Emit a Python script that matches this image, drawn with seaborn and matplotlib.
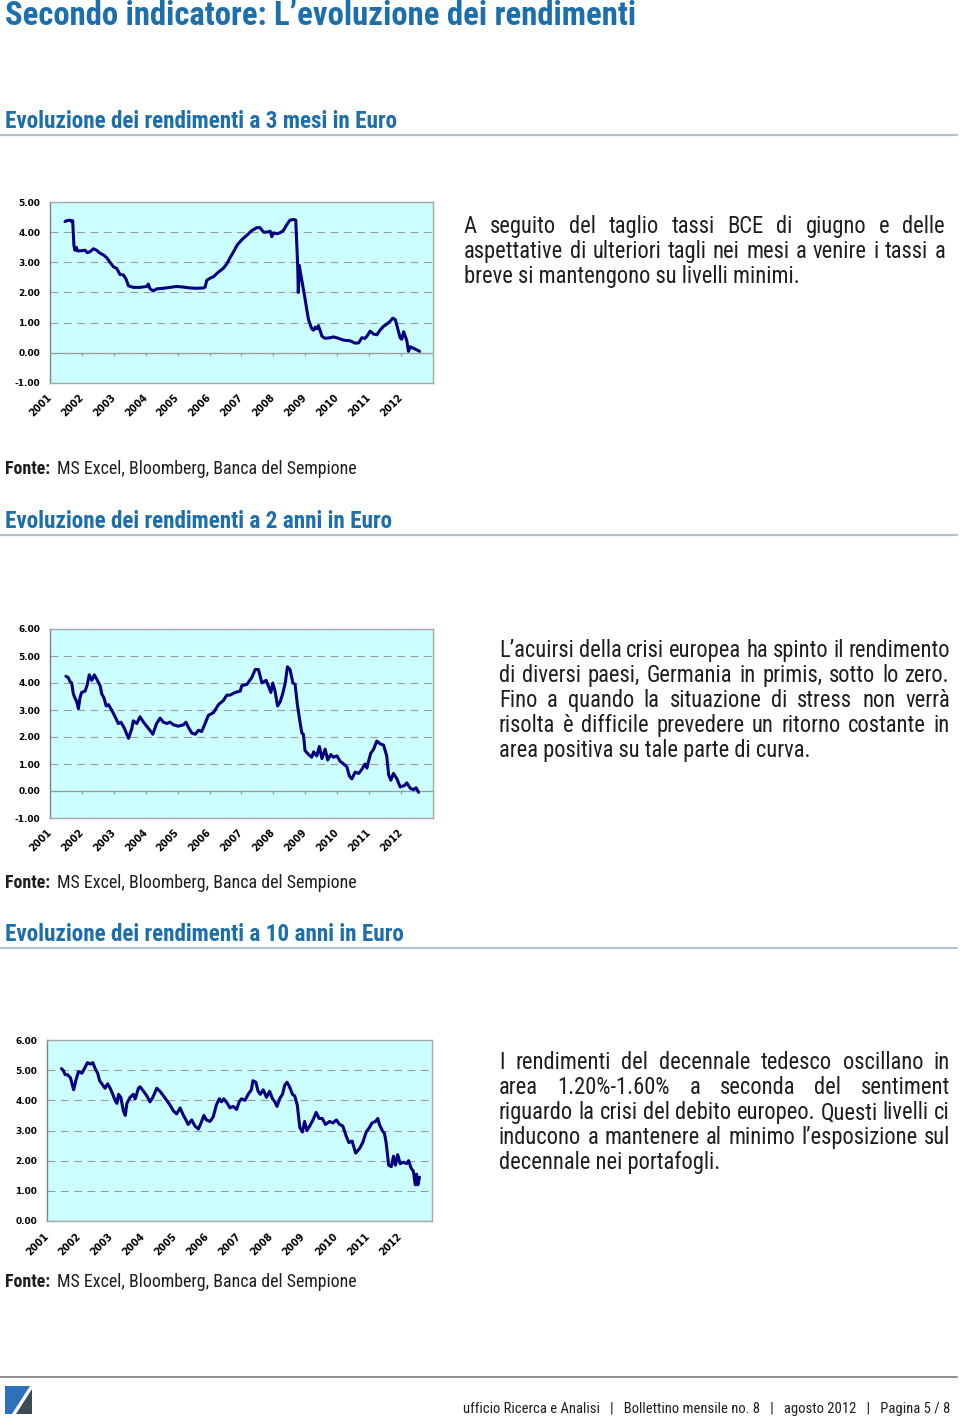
import matplotlib
matplotlib.use("Agg")
import matplotlib.pyplot as plt
import matplotlib.transforms as mtransforms
from matplotlib import font_manager
from matplotlib.patches import Polygon
import seaborn as sns

# ---- data (decimal year, yield %) ----
years_3m = [2001.47, 2001.52, 2001.63, 2001.68, 2001.71, 2001.75, 2001.78, 2001.82, 2001.86, 2001.94,
            2002.10, 2002.17, 2002.25, 2002.36, 2002.46, 2002.57, 2002.67, 2002.78, 2002.88, 2002.99,
            2003.09, 2003.19, 2003.30, 2003.38, 2003.46, 2003.61, 2003.82, 2004.03, 2004.08, 2004.13,
            2004.24, 2004.34, 2004.55, 2004.76, 2004.97, 2005.18, 2005.39, 2005.60, 2005.81, 2005.86,
            2005.91, 2006.02, 2006.12, 2006.28, 2006.43, 2006.54, 2006.64, 2006.75, 2006.87, 2007.01,
            2007.17, 2007.32, 2007.48, 2007.58, 2007.69, 2007.79, 2007.90, 2007.95, 2008.00, 2008.11,
            2008.21, 2008.31, 2008.42, 2008.52, 2008.63, 2008.70, 2008.76, 2008.78, 2008.81, 2008.84,
            2008.89, 2008.94, 2008.99, 2009.05, 2009.10, 2009.15, 2009.20, 2009.26, 2009.31, 2009.36,
            2009.41, 2009.46, 2009.52, 2009.62, 2009.78, 2009.88, 2010.04, 2010.20, 2010.40, 2010.56,
            2010.67, 2010.77, 2010.87, 2010.93, 2011.03, 2011.14, 2011.24, 2011.34, 2011.45, 2011.55,
            2011.66, 2011.74, 2011.82, 2011.87, 2011.92, 2011.97, 2012.02, 2012.08, 2012.13, 2012.18,
            2012.23, 2012.29, 2012.39, 2012.49, 2012.58]
rates_3m = [4.35, 4.38, 4.40, 4.35, 4.38, 3.55, 3.40, 3.50, 3.38, 3.38,
            3.40, 3.32, 3.35, 3.45, 3.40, 3.30, 3.25, 3.15, 3.00, 2.85,
            2.80, 2.60, 2.58, 2.45, 2.22, 2.17, 2.17, 2.20, 2.28, 2.13,
            2.05, 2.12, 2.14, 2.17, 2.20, 2.18, 2.15, 2.14, 2.15, 2.18,
            2.40, 2.48, 2.52, 2.68, 2.80, 2.95, 3.15, 3.35, 3.58, 3.75,
            3.90, 4.05, 4.15, 4.15, 4.00, 4.00, 4.03, 3.85, 3.98, 3.95,
            3.98, 4.05, 4.25, 4.40, 4.42, 4.40, 2.90, 2.00, 2.90, 2.70,
            2.40, 2.10, 1.80, 1.40, 1.10, 0.95, 0.80, 0.75, 0.85, 0.80,
            0.90, 0.75, 0.55, 0.48, 0.50, 0.53, 0.48, 0.42, 0.40, 0.32,
            0.33, 0.50, 0.48, 0.55, 0.72, 0.62, 0.60, 0.75, 0.88, 0.95,
            1.05, 1.15, 1.10, 0.90, 0.70, 0.50, 0.45, 0.70, 0.55, 0.40,
            0.05, 0.20, 0.15, 0.10, 0.05]

years_2y = [2001.50, 2001.57, 2001.63, 2001.68, 2001.73, 2001.78, 2001.84, 2001.89, 2001.94, 2001.99,
            2002.10, 2002.17, 2002.23, 2002.31, 2002.39, 2002.46, 2002.57, 2002.62, 2002.69, 2002.76,
            2002.83, 2002.93, 2003.04, 2003.14, 2003.22, 2003.32, 2003.46, 2003.56, 2003.61, 2003.72,
            2003.82, 2003.93, 2004.03, 2004.13, 2004.22, 2004.34, 2004.45, 2004.55, 2004.66, 2004.76,
            2004.87, 2005.02, 2005.18, 2005.26, 2005.34, 2005.44, 2005.55, 2005.65, 2005.75, 2005.86,
            2005.96, 2006.12, 2006.28, 2006.43, 2006.54, 2006.64, 2006.80, 2006.96, 2007.01, 2007.17,
            2007.32, 2007.43, 2007.53, 2007.64, 2007.77, 2007.84, 2007.92, 2007.98, 2008.05, 2008.13,
            2008.21, 2008.29, 2008.37, 2008.44, 2008.52, 2008.61, 2008.68, 2008.75, 2008.84, 2008.89,
            2008.94, 2008.99, 2009.10, 2009.20, 2009.26, 2009.36, 2009.44, 2009.52, 2009.62, 2009.70,
            2009.80, 2009.88, 2009.99, 2010.09, 2010.20, 2010.30, 2010.38, 2010.46, 2010.56, 2010.67,
            2010.77, 2010.87, 2010.93, 2010.98, 2011.05, 2011.14, 2011.24, 2011.34, 2011.45, 2011.50,
            2011.55, 2011.61, 2011.68, 2011.76, 2011.87, 2011.97, 2012.10, 2012.18, 2012.29, 2012.39,
            2012.47, 2012.55]
rates_2y = [4.25, 4.20, 4.05, 4.00, 3.60, 3.45, 3.30, 3.05, 3.45, 3.65,
            3.70, 3.95, 4.30, 4.10, 4.30, 4.15, 3.90, 3.60, 3.45, 3.15,
            3.20, 3.00, 2.75, 2.50, 2.55, 2.35, 1.95, 2.30, 2.60, 2.50,
            2.75, 2.55, 2.40, 2.25, 2.10, 2.50, 2.70, 2.55, 2.50, 2.55,
            2.45, 2.40, 2.45, 2.55, 2.35, 2.15, 2.10, 2.25, 2.20, 2.50,
            2.80, 2.90, 3.20, 3.35, 3.55, 3.55, 3.65, 3.70, 3.90, 3.95,
            4.20, 4.50, 4.50, 4.00, 4.10, 3.90, 3.65, 4.00, 3.70, 3.15,
            3.30, 3.60, 4.00, 4.60, 4.50, 4.00, 3.95, 3.20, 2.50, 2.15,
            2.10, 1.50, 1.35, 1.25, 1.45, 1.30, 1.65, 1.20, 1.55, 1.15,
            1.35, 1.25, 1.30, 1.10, 1.00, 0.90, 0.55, 0.45, 0.70, 0.65,
            0.80, 1.00, 0.85, 1.10, 1.40, 1.55, 1.85, 1.75, 1.70, 1.50,
            1.30, 0.60, 0.40, 0.65, 0.45, 0.15, 0.20, 0.30, 0.10, 0.05,
            0.12, -0.05]

years_10y = [2001.45, 2001.50, 2001.57, 2001.64, 2001.73, 2001.78, 2001.83, 2001.91, 2001.98, 2002.09,
             2002.19, 2002.26, 2002.35, 2002.43, 2002.50, 2002.58, 2002.64, 2002.71, 2002.81, 2002.89,
             2002.97, 2003.05, 2003.12, 2003.18, 2003.23, 2003.30, 2003.38, 2003.44, 2003.49, 2003.59,
             2003.69, 2003.75, 2003.85, 2003.90, 2004.01, 2004.11, 2004.21, 2004.30, 2004.42, 2004.52,
             2004.63, 2004.73, 2004.83, 2004.94, 2005.04, 2005.15, 2005.23, 2005.33, 2005.40, 2005.51,
             2005.61, 2005.72, 2005.82, 2005.89, 2005.97, 2006.08, 2006.18, 2006.28, 2006.37, 2006.44,
             2006.51, 2006.62, 2006.70, 2006.80, 2006.91, 2006.99, 2007.06, 2007.17, 2007.27, 2007.37,
             2007.42, 2007.51, 2007.58, 2007.65, 2007.74, 2007.84, 2007.94, 2008.03, 2008.10, 2008.17,
             2008.25, 2008.34, 2008.41, 2008.48, 2008.56, 2008.65, 2008.72, 2008.80, 2008.88, 2008.96,
             2009.03, 2009.10, 2009.19, 2009.29, 2009.39, 2009.48, 2009.58, 2009.68, 2009.81, 2009.91,
             2010.02, 2010.12, 2010.22, 2010.33, 2010.41, 2010.51, 2010.62, 2010.74, 2010.84, 2010.95,
             2011.05, 2011.13, 2011.24, 2011.31, 2011.36, 2011.45, 2011.52, 2011.57, 2011.65, 2011.73,
             2011.80, 2011.86, 2011.93, 2012.01, 2012.11, 2012.21, 2012.27, 2012.35, 2012.42, 2012.48,
             2012.52, 2012.56, 2012.61]
rates_10y = [5.05, 5.00, 4.85, 4.85, 4.75, 4.55, 4.35, 4.70, 4.95, 4.90,
             5.10, 5.25, 5.20, 5.25, 5.05, 4.90, 4.65, 4.55, 4.40, 4.55,
             4.40, 4.20, 4.00, 3.90, 4.20, 4.10, 3.65, 3.50, 3.90, 4.10,
             4.20, 4.05, 4.40, 4.45, 4.30, 4.15, 3.95, 4.10, 4.40, 4.30,
             4.15, 4.00, 3.85, 3.65, 3.55, 3.75, 3.55, 3.35, 3.20, 3.35,
             3.15, 3.05, 3.30, 3.50, 3.35, 3.30, 3.45, 3.85, 4.05, 3.95,
             4.05, 3.90, 3.75, 3.80, 3.70, 3.95, 4.05, 4.00, 4.20, 4.35,
             4.65, 4.60, 4.30, 4.20, 4.35, 4.10, 4.30, 4.05, 3.95, 3.80,
             4.05, 4.20, 4.50, 4.60, 4.45, 4.20, 4.15, 3.85, 3.10, 2.95,
             3.30, 3.00, 3.15, 3.35, 3.60, 3.40, 3.40, 3.20, 3.30, 3.25,
             3.35, 3.20, 3.15, 2.80, 2.60, 2.65, 2.25, 2.40, 2.60, 2.95,
             3.10, 3.25, 3.30, 3.40, 3.20, 3.00, 2.90, 2.60, 1.85, 1.80,
             2.15, 1.85, 2.20, 1.90, 1.95, 1.90, 2.00, 1.75, 1.65, 1.20,
             1.55, 1.20, 1.45]

year_labels = [str(y) for y in range(2001, 2013)]

page_title = "Secondo indicatore: L\u2019evoluzione dei rendimenti"
headers = ["Evoluzione dei rendimenti a 3 mesi in Euro",
           "Evoluzione dei rendimenti a 2 anni in Euro",
           "Evoluzione dei rendimenti a 10 anni in Euro"]
source = "MS Excel, Bloomberg, Banca del Sempione"
para_3m = ["A seguito del taglio tassi BCE di giugno e delle",
           "aspettative di ulteriori tagli nei mesi a venire i tassi a",
           "breve si mantengono su livelli minimi."]
para_2y = ["L\u2019acuirsi della crisi europea ha spinto il rendimento",
           "di diversi paesi, Germania in primis, sotto lo zero.",
           "Fino a quando la situazione di stress non verrà",
           "risolta è difficile prevedere un ritorno costante in",
           "area positiva su tale parte di curva."]
para_10y = ["I rendimenti del decennale tedesco oscillano in",
            "area 1.20%-1.60% a seconda del sentiment",
            "riguardo la crisi del debito europeo. Questi livelli ci",
            "inducono a mantenere al minimo l\u2019esposizione sul",
            "decennale nei portafogli."]
footer = "ufficio Ricerca e Analisi   |   Bollettino mensile no. 8   |   agosto 2012   |   Pagina 5 / 8"

sns.set_theme(style="white")
plt.rcParams["font.family"] = ["DejaVu Sans"]

# pick a narrow family for the page text if one is around
fonts = font_manager.fontManager.ttflist
names = {f.name for f in fonts}
BODY = {"family": ["Liberation Sans", "DejaVu Sans"]}
for fam in ["Roboto Condensed", "Liberation Sans Narrow", "Open Sans Condensed", "Noto Sans Condensed"]:
    if fam in names:
        BODY = {"family": [fam, "DejaVu Sans"]}
        break
else:
    for fam in ["Roboto", "Noto Sans", "Open Sans", "DejaVu Sans"]:
        if any(f.name == fam and "condensed" in str(f.stretch) for f in fonts):
            BODY = {"family": [fam, "DejaVu Sans"], "fontstretch": "condensed"}
            break

W, H = 960, 1418
fig = plt.figure(figsize=(W / 100, H / 100), dpi=100)
fig.patch.set_facecolor("white")
renderer = fig.canvas.get_renderer()

BLUE = "#1c6fac"
INK = "#1e1e1e"


def fx(x):
    return x / W


def fy(y):
    return 1 - y / H


def width_of(s, size, **kw):
    t = fig.text(0, 0, s, fontsize=size, **kw)
    w = t.get_window_extent(renderer).width
    t.remove()
    return w


def fit(s, target, **kw):
    return 10 * target / width_of(s, 10, **kw)


def paragraph(lines, x0, x1, y0, size):
    for i, line in enumerate(lines):
        y = y0 + 25 * i
        if i == len(lines) - 1:
            fig.text(fx(x0), fy(y), line, fontsize=size, color=INK, va="baseline", **BODY)
            continue
        words = line.split()
        ws = [width_of(w, size, **BODY) for w in words]
        gap = (x1 - x0 - sum(ws)) / (len(words) - 1)
        x = x0
        for w, wd in zip(words, ws):
            fig.text(fx(x), fy(y), w, fontsize=size, color=INK, va="baseline", **BODY)
            x += wd + gap


def chart(box, years, rates, ylo, yhi):
    l, t, r, b = box
    ax = fig.add_axes([fx(l), fy(b), (r - l) / W, (b - t) / H])
    ax.set_facecolor("#ccffff")
    sns.lineplot(x=years, y=rates, ax=ax, color="#000080", linewidth=2.2,
                 estimator=None, sort=False, zorder=5)
    ax.set_xlim(2001, 2013)
    ax.set_ylim(ylo, yhi)
    ax.set_yticks(range(ylo, yhi + 1))
    ax.set_yticklabels([f"{v:.2f}" for v in range(ylo, yhi + 1)],
                       fontsize=6.5, fontweight="bold", color="black")
    ax.set_xticks(range(2001, 2014))
    ax.set_xticklabels(year_labels + [""], rotation=45, ha="right", va="center",
                       rotation_mode="anchor", fontsize=7, fontweight="bold", color="black")
    shift = mtransforms.ScaledTranslation(-6 / 100, -2 / 100, fig.dpi_scale_trans)
    for lab in ax.get_xticklabels():
        lab.set_transform(lab.get_transform() + shift)
    ax.grid(axis="y", color="#9a9a9a", linestyle=(0, (7, 5)), linewidth=0.8)
    ax.grid(axis="x", visible=False)
    ax.axhline(0, color="#9a9a9a", linewidth=0.9, zorder=3)
    ax.tick_params(axis="y", length=0, pad=7)
    if ylo < 0:
        ax.tick_params(axis="x", length=0, pad=9)
        tick = (yhi - ylo) / (b - t) * 3
        ax.vlines(range(2002, 2013), -tick, 0, color="#9a9a9a", linewidth=0.9, zorder=3)
    else:
        ax.tick_params(axis="x", length=3, width=0.9, color="#9a9a9a", pad=7, direction="out")
    for side in ["top", "right", "bottom"]:
        ax.spines[side].set_color("#a8a8a8")
        ax.spines[side].set_linewidth(1.0)
    ax.spines["left"].set_color("#808080")
    ax.spines["left"].set_linewidth(1.0)
    ax.set_xlabel("")
    ax.set_ylabel("")
    return ax


# ---- page text ----
title_size = fit(page_title, 632, fontweight="bold", **BODY)
fig.text(fx(5), fy(25), page_title, fontsize=title_size, fontweight="bold", color=BLUE,
         va="baseline", **BODY)

head_size = fit(headers[0], 393, fontweight="bold", **BODY)
src_size = fit(source, 298, **BODY)
body_size = fit(para_3m[-1], 333, **BODY)

for head, y_head, y_src in zip(headers, [128, 528, 941], [474, 888, 1287]):
    fig.text(fx(5), fy(y_head), head, fontsize=head_size, fontweight="bold", color=BLUE,
             va="baseline", **BODY)
    fig.add_artist(plt.Line2D([0, fx(957)], [fy(y_head + 6.5)] * 2, color="#b3c3d0", linewidth=1.6))
    fig.text(fx(5), fy(y_src), "Fonte:", fontsize=src_size, fontweight="bold", color=INK,
             va="baseline", **BODY)
    fig.text(fx(57), fy(y_src), source, fontsize=src_size, color=INK, va="baseline", **BODY)

paragraph(para_3m, 464, 945, 233, body_size)
paragraph(para_2y, 499, 950, 657, body_size)
paragraph(para_10y, 499, 950, 1069, body_size)

# ---- charts ----
chart((50, 202, 433, 383), years_3m, rates_3m, -1, 5)
chart((50, 629, 433, 818), years_2y, rates_2y, -1, 6)
chart((47, 1040, 432, 1221), years_10y, rates_10y, 0, 6)

# ---- footer ----
fig.add_artist(plt.Line2D([0, fx(957)], [fy(1377)] * 2, color="#8c8c8c", linewidth=1.4))
foot_size = fit(footer, 483, **BODY)
fig.text(fx(950), fy(1413), footer, fontsize=foot_size, color=INK, ha="right", va="baseline", **BODY)
fig.add_artist(Polygon([(fx(5), fy(1386)), (fx(30), fy(1386)), (fx(12), fy(1414)), (fx(5), fy(1414))],
                       closed=True, transform=fig.transFigure, facecolor="#2d72b8", edgecolor="none"))
fig.add_artist(Polygon([(fx(32), fy(1389)), (fx(32), fy(1414)), (fx(16), fy(1414))],
                       closed=True, transform=fig.transFigure, facecolor="#3c4a52", edgecolor="none"))

fig.savefig("out.png", dpi=100, facecolor="white")
